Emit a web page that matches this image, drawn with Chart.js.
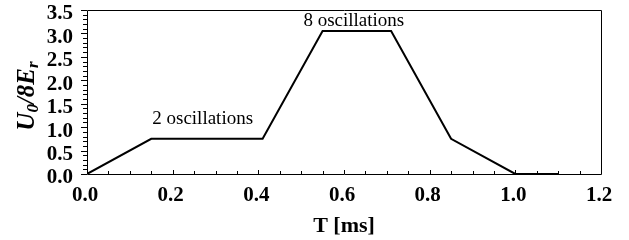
<!DOCTYPE html>
<html>
<head>
<meta charset="utf-8">
<script src="https://cdn.jsdelivr.net/npm/chart.js@4/dist/chart.umd.min.js"></script>
<style>
  html, body { margin: 0; padding: 0; background: #fff; }
  #wrap { width: 629px; height: 240px; }
</style>
</head>
<body>
<div id="wrap"><canvas id="myChart" width="629" height="240"></canvas></div>
<script>
// pulse sequence: time in ms, depth in units of 8 E_r
const timeMs = [0, 0.15, 0.41, 0.55, 0.71, 0.85, 1.0, 1.1];
const depth = [0, 0.75, 0.75, 3.05, 3.05, 0.75, 0, 0];
const xTicks = [0, 0.2, 0.4, 0.6, 0.8, 1.0, 1.2];
const yTicks = [0, 0.5, 1.0, 1.5, 2.0, 2.5, 3.0, 3.5];
const notes = [
    { text: "2 oscillations", x: 0.27, y: 1.07 },
    { text: "8 oscillations", x: 0.623, y: 3.16 },
];

const serif = "'Liberation Serif', 'DejaVu Serif', serif";

// inner/outer tick marks, frame, annotations and y title
const decor = {
    id: "decor",
    afterDraw(chart) {
        const c = chart.ctx;
        const xs = chart.scales.x, ys = chart.scales.y;
        const a = chart.chartArea;
        c.save();
        c.strokeStyle = "#000";
        c.lineWidth = 1;
        // frame
        c.beginPath();
        c.moveTo(a.left + 0.5, a.bottom + 0.5);
        c.lineTo(a.left + 0.5, a.top + 0.5);
        c.lineTo(a.right + 0.5, a.top + 0.5);
        c.lineTo(a.right + 0.5, a.bottom + 0.5);
        c.lineTo(a.left + 0.5, a.bottom + 0.5);
        c.stroke();
        // x ticks every 0.05, pointing inward
        c.beginPath();
        for (let i = 1; i < 24; i++) {
            const px = Math.round(xs.getPixelForValue(i * 0.05)) + 0.5;
            const len = i % 4 === 0 ? 4 : 3;
            c.moveTo(px, a.bottom);
            c.lineTo(px, a.bottom - len);
        }
        // y ticks every 0.1, pointing outward
        for (let i = 0; i <= 35; i++) {
            const py = Math.round(ys.getPixelForValue(i * 0.1)) + 0.5;
            const len = i % 5 === 0 ? 6 : 4;
            c.moveTo(a.left, py);
            c.lineTo(a.left - len, py);
        }
        c.stroke();

        // annotations
        c.fillStyle = "#000";
        c.font = "19px " + serif;
        c.textAlign = "center";
        c.textBaseline = "alphabetic";
        notes.forEach(n => {
            c.fillText(n.text, xs.getPixelForValue(n.x), ys.getPixelForValue(n.y));
        });

        // y title U0/8Er with subscripts
        c.translate(34, 96);
        c.rotate(-Math.PI / 2);
        const big = "italic bold 25px " + serif;
        const small = "italic bold 17px " + serif;
        const parts = [
            { t: "U", f: big, dy: 0 },
            { t: "0", f: small, dy: 4 },
            { t: "/8E", f: big, dy: 0 },
            { t: "r", f: small, dy: 4 },
        ];
        let w = 0;
        parts.forEach(p => { c.font = p.f; w += c.measureText(p.t).width; });
        let x = -w / 2;
        c.textAlign = "left";
        parts.forEach(p => {
            c.font = p.f;
            c.fillText(p.t, x, p.dy);
            x += c.measureText(p.t).width;
        });
        c.restore();
    }
};

const ctx = document.getElementById("myChart").getContext("2d");

const myChart = new Chart(ctx, {
    type: "scatter",
    data: {
        datasets: [
            {
                data: timeMs.map((t, i) => ({ x: t, y: depth[i] })),
                showLine: true,
                borderColor: "#000",
                borderWidth: 2,
                pointRadius: 0,
                tension: 0,
            },
        ],
    },
    options: {
        responsive: false,
        animation: false,
        layout: { padding: { left: 0, right: 28, top: 10, bottom: 0 } },
        scales: {
            x: {
                type: "linear",
                min: 0,
                max: 1.2,
                afterBuildTicks: s => { s.ticks = xTicks.map(v => ({ value: v })); },
                afterFit: s => { s.height = 66; s.paddingLeft = 0; s.paddingRight = 0; },
                grid: { display: false, drawTicks: false },
                border: { display: false },
                ticks: {
                    autoSkip: false,
                    maxRotation: 0,
                    padding: 9,
                    labelOffset: -2,
                    color: "#000",
                    font: { family: serif, size: 21, weight: "bold" },
                    callback: v => v.toFixed(1),
                },
                title: {
                    display: true,
                    text: "T [ms]",
                    color: "#000",
                    font: { family: serif, size: 22, weight: "bold" },
                    padding: { top: 5, bottom: 0 },
                },
            },
            y: {
                min: 0,
                max: 3.5,
                afterBuildTicks: s => { s.ticks = yTicks.map(v => ({ value: v })); },
                afterFit: s => { s.width = 87; s.paddingTop = 0; s.paddingBottom = 0; },
                grid: { display: false, drawTicks: false },
                border: { display: false },
                ticks: {
                    autoSkip: false,
                    padding: 14,
                    labelOffset: 4,
                    color: "#000",
                    font: { family: serif, size: 21, weight: "bold" },
                    callback: v => v.toFixed(1),
                },
            },
        },
        plugins: {
            legend: { display: false },
            tooltip: { enabled: false },
        },
    },
    plugins: [decor],
});
</script>
</body>
</html>
